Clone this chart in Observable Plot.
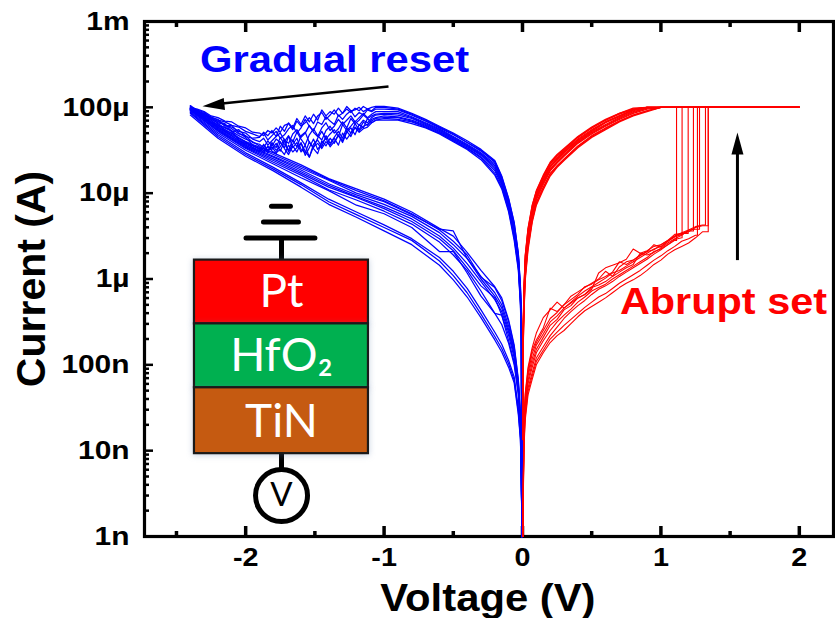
<!DOCTYPE html>
<html>
<head>
<meta charset="utf-8">
<script src="https://cdn.jsdelivr.net/npm/d3@7"></script>
<script src="https://cdn.jsdelivr.net/npm/@observablehq/plot@0.6"></script>
<style>
html,body{margin:0;padding:0;background:#fff}
svg{display:block}
</style>
</head>
<body>
<div id="chart"></div>
<script>
// Currents as log10(A).
const resetV = [-2.4,-2.35,-2.3,-2.25,-2.2,-2.15,-2.1,-2.05,-2,-1.95,
  -1.9,-1.87,-1.84,-1.81,-1.78,-1.75,-1.72,-1.69,-1.66,-1.63,-1.6,-1.57,-1.54,-1.51,-1.48,-1.45,-1.42,-1.39,-1.36,-1.33,-1.3,-1.27,-1.24,-1.21,-1.18,-1.15,-1.12,-1.09,-1.06,
  -1,-.9,-.8,-.7,-.6,-.5,-.4,-.3,-.2,-.15,-.1,-.06,-.03,-.015,-.008,-.004];
const reset1 = [-4.00,-4.02,-4.05,-4.10,-4.12,-4.16,-4.17,-4.22,-4.24,-4.29,
  -4.30,-4.33,-4.27,-4.30,-4.24,-4.29,-4.21,-4.19,-4.26,-4.16,-4.22,-4.18,-4.12,-4.19,-4.10,-4.06,-4.14,-4.09,-4.03,-4.10,-4.07,-4.02,-4.06,-4.01,-4.04,-3.99,-4.02,-4.00,-3.99,
  -3.99,-4.01,-4.07,-4.14,-4.22,-4.30,-4.39,-4.49,-4.62,-4.80,-5.06,-5.34,-5.70,-6.07,-6.45,-9];
const reset2 = [-4.01,-4.04,-4.07,-4.11,-4.15,-4.17,-4.21,-4.23,-4.28,-4.31,
  -4.34,-4.30,-4.38,-4.33,-4.28,-4.36,-4.32,-4.25,-4.21,-4.30,-4.24,-4.14,-4.22,-4.27,-4.17,-4.20,-4.11,-4.16,-4.20,-4.09,-4.14,-4.08,-4.04,-4.11,-4.06,-4.09,-4.03,-4.05,-4.02,
  -4.02,-4.03,-4.09,-4.16,-4.24,-4.32,-4.41,-4.51,-4.64,-4.83,-5.09,-5.38,-5.73,-6.12,-6.50,-9];
const reset3 = [-4.01,-4.05,-4.08,-4.13,-4.16,-4.21,-4.23,-4.28,-4.30,-4.37,
  -4.40,-4.36,-4.44,-4.39,-4.34,-4.30,-4.38,-4.42,-4.31,-4.26,-4.35,-4.30,-4.21,-4.29,-4.34,-4.24,-4.18,-4.27,-4.22,-4.14,-4.20,-4.15,-4.10,-4.17,-4.12,-4.07,-4.12,-4.08,-4.05,
  -4.05,-4.05,-4.11,-4.18,-4.25,-4.34,-4.43,-4.53,-4.66,-4.84,-5.11,-5.40,-5.75,-6.14,-6.54,-9];
const reset4 = [-4.02,-4.05,-4.09,-4.14,-4.18,-4.20,-4.25,-4.31,-4.33,-4.41,
  -4.43,-4.47,-4.39,-4.45,-4.37,-4.41,-4.47,-4.34,-4.40,-4.29,-4.37,-4.44,-4.32,-4.25,-4.33,-4.38,-4.27,-4.22,-4.30,-4.25,-4.17,-4.24,-4.13,-4.19,-4.15,-4.09,-4.13,-4.10,-4.08,
  -4.07,-4.07,-4.12,-4.19,-4.26,-4.35,-4.44,-4.54,-4.68,-4.86,-5.12,-5.42,-5.77,-6.16,-6.57,-9];
const reset5 = [-4.02,-4.03,-4.06,-4.12,-4.14,-4.22,-4.21,-4.30,-4.35,-4.44,
  -4.49,-4.44,-4.51,-4.41,-4.47,-4.35,-4.43,-4.50,-4.38,-4.46,-4.33,-4.29,-4.41,-4.47,-4.36,-4.28,-4.37,-4.31,-4.26,-4.34,-4.20,-4.27,-4.22,-4.16,-4.21,-4.15,-4.18,-4.12,-4.09,
  -4.08,-4.09,-4.13,-4.20,-4.27,-4.36,-4.45,-4.55,-4.70,-4.87,-5.14,-5.44,-5.79,-6.19,-6.60,-9];
const reset6 = [-4.03,-4.06,-4.10,-4.13,-4.19,-4.24,-4.28,-4.33,-4.37,-4.40,
  -4.45,-4.51,-4.46,-4.49,-4.42,-4.51,-4.40,-4.33,-4.47,-4.41,-4.52,-4.44,-4.58,-4.43,-4.38,-4.46,-4.33,-4.42,-4.35,-4.28,-4.36,-4.24,-4.30,-4.19,-4.26,-4.17,-4.21,-4.14,-4.12,
  -4.10,-4.11,-4.15,-4.21,-4.28,-4.37,-4.46,-4.56,-4.72,-4.89,-5.16,-5.47,-5.82,-6.22,-6.64,-9];
const reset7 = [-4.02,-4.07,-4.11,-4.17,-4.20,-4.27,-4.30,-4.36,-4.40,-4.47,
  -4.52,-4.47,-4.53,-4.43,-4.50,-4.46,-4.37,-4.52,-4.43,-4.36,-4.49,-4.53,-4.40,-4.48,-4.54,-4.39,-4.45,-4.36,-4.42,-4.32,-4.39,-4.28,-4.34,-4.23,-4.27,-4.22,-4.20,-4.16,-4.13,
  -4.12,-4.12,-4.16,-4.22,-4.29,-4.38,-4.47,-4.58,-4.74,-4.91,-5.18,-5.50,-5.85,-6.25,-6.68,-9];
const reset8 = [-4.03,-4.07,-4.12,-4.15,-4.22,-4.23,-4.27,-4.38,-4.42,-4.45,
  -4.48,-4.53,-4.45,-4.51,-4.54,-4.40,-4.48,-4.55,-4.45,-4.52,-4.41,-4.56,-4.47,-4.37,-4.49,-4.42,-4.36,-4.46,-4.40,-4.33,-4.41,-4.29,-4.24,-4.32,-4.20,-4.24,-4.13,-4.18,-4.15,
  -4.13,-4.14,-4.17,-4.23,-4.30,-4.39,-4.48,-4.59,-4.77,-4.93,-5.20,-5.52,-5.87,-6.27,-6.72,-9];
const reset9 = [-4.03,-4.08,-4.13,-4.18,-4.23,-4.28,-4.33,-4.39,-4.44,-4.48,
  -4.51,-4.43,-4.50,-4.46,-4.53,-4.49,-4.55,-4.44,-4.52,-4.47,-4.42,-4.51,-4.58,-4.46,-4.42,-4.48,-4.40,-4.44,-4.36,-4.44,-4.30,-4.37,-4.30,-4.24,-4.29,-4.25,-4.23,-4.18,-4.15,
  -4.15,-4.15,-4.19,-4.24,-4.31,-4.40,-4.49,-4.61,-4.79,-4.95,-5.22,-5.55,-5.90,-6.30,-6.77,-9];
const reset10 = [-4.01,-4.04,-4.08,-4.12,-4.17,-4.19,-4.29,-4.26,-4.34,-4.36,
  -4.35,-4.29,-4.33,-4.27,-4.34,-4.22,-4.28,-4.18,-4.24,-4.13,-4.20,-4.10,-4.17,-4.08,-4.15,-4.03,-4.10,-4.05,-4.08,-4.01,-4.07,-3.99,-4.04,-4.03,-4.00,-4.05,-4.02,-4.04,-4.00,
  -4.00,-4.02,-4.08,-4.15,-4.23,-4.31,-4.41,-4.50,-4.63,-4.81,-5.07,-5.35,-5.71,-6.09,-6.47,-9];

const offV = [-2.4,-2.2,-2,-1.8,-1.6,-1.4,-1.2,-1,-.8,-.6,-.5,-.4,-.3,-.2,-.15,-.1,-.06,-.03,-.015,-.008,-.004];
const off1 = [-3.98,-4.21,-4.40,-4.53,-4.67,-4.83,-4.95,-5.07,-5.22,-5.41,-5.50,-5.69,-5.90,-6.09,-6.22,-6.48,-6.77,-7.17,-7.58,-8.22,-9];
const off2 = [-3.99,-4.23,-4.41,-4.55,-4.69,-4.84,-4.97,-5.09,-5.24,-5.43,-5.56,-5.72,-5.98,-6.10,-6.25,-6.50,-6.79,-7.19,-7.60,-8.24,-9];
const off3 = [-4.00,-4.24,-4.43,-4.57,-4.71,-4.85,-5.00,-5.10,-5.25,-5.42,-5.44,-5.76,-5.97,-6.16,-6.30,-6.55,-6.83,-7.22,-7.62,-8.25,-9];
const off4 = [-4.01,-4.25,-4.45,-4.58,-4.73,-4.89,-5.02,-5.13,-5.27,-5.46,-5.60,-5.76,-6.00,-6.20,-6.34,-6.59,-6.86,-7.24,-7.64,-8.26,-9];
const off5 = [-4.02,-4.26,-4.46,-4.60,-4.75,-4.91,-5.04,-5.16,-5.30,-5.50,-5.64,-5.82,-6.03,-6.24,-6.38,-6.62,-6.88,-7.26,-7.66,-8.27,-9];
const off6 = [-4.03,-4.27,-4.47,-4.62,-4.77,-4.93,-5.05,-5.18,-5.33,-5.53,-5.67,-5.87,-6.08,-6.22,-6.42,-6.66,-6.92,-7.28,-7.68,-8.28,-9];
const off7 = [-4.04,-4.28,-4.48,-4.64,-4.79,-4.96,-5.08,-5.21,-5.36,-5.57,-5.72,-5.90,-6.14,-6.40,-6.42,-6.72,-6.97,-7.32,-7.70,-8.29,-9];
const off8 = [-4.05,-4.30,-4.50,-4.66,-4.82,-4.97,-5.14,-5.24,-5.40,-5.68,-5.68,-5.93,-6.20,-6.40,-6.53,-6.75,-7.00,-7.35,-7.72,-8.30,-9];
const off9 = [-4.06,-4.32,-4.53,-4.70,-4.88,-5.07,-5.22,-5.37,-5.53,-5.75,-5.91,-6.11,-6.36,-6.62,-6.76,-6.95,-7.14,-7.50,-7.80,-8.32,-9];
const off10 = [-4.07,-4.34,-4.55,-4.72,-4.90,-5.10,-5.25,-5.40,-5.55,-5.79,-5.96,-6.16,-6.41,-6.67,-6.81,-6.99,-7.18,-7.55,-7.85,-8.33,-9];
const off11 = [-4.09,-4.36,-4.57,-4.74,-4.93,-5.13,-5.28,-5.44,-5.60,-5.84,-6.01,-6.21,-6.45,-6.71,-6.85,-7.03,-7.21,-7.58,-7.87,-8.34,-9];

const returnV = [.001,.005,.01,.02,.04,.07,.1,.15,.2,.25,.3,.4,.5,.6,.7,.8,.9,1,2];
const return1 = [-7.76,-6.59,-6.13,-5.72,-5.41,-5.14,-4.97,-4.79,-4.64,-4.55,-4.48,-4.34,-4.23,-4.14,-4.07,-4.01,-4,-4,-4];
const return2 = [-7.77,-6.62,-6.17,-5.75,-5.44,-5.17,-4.99,-4.81,-4.66,-4.57,-4.50,-4.35,-4.24,-4.15,-4.08,-4.02,-4,-4,-4];
const return3 = [-7.78,-6.64,-6.20,-5.79,-5.47,-5.19,-5.01,-4.83,-4.68,-4.59,-4.51,-4.37,-4.26,-4.17,-4.10,-4.03,-4,-4,-4];
const return4 = [-7.79,-6.67,-6.23,-5.82,-5.50,-5.21,-5.03,-4.85,-4.70,-4.61,-4.53,-4.39,-4.28,-4.18,-4.11,-4.04,-4,-4,-4];
const return5 = [-7.80,-6.69,-6.26,-5.85,-5.53,-5.23,-5.05,-4.87,-4.72,-4.63,-4.55,-4.40,-4.29,-4.20,-4.12,-4.05,-4.01,-4,-4];
const return6 = [-7.82,-6.72,-6.29,-5.89,-5.56,-5.27,-5.08,-4.90,-4.74,-4.65,-4.57,-4.42,-4.31,-4.22,-4.14,-4.07,-4.02,-4,-4];
const return7 = [-7.84,-6.78,-6.36,-5.95,-5.61,-5.31,-5.11,-4.93,-4.77,-4.68,-4.60,-4.45,-4.33,-4.24,-4.16,-4.09,-4.04,-4,-4];
const return8 = [-7.87,-6.83,-6.42,-6.01,-5.66,-5.34,-5.14,-4.96,-4.80,-4.70,-4.62,-4.47,-4.35,-4.26,-4.17,-4.10,-4.05,-4,-4];
const return9 = [-7.77,-6.60,-6.15,-5.73,-5.42,-5.15,-4.98,-4.80,-4.65,-4.56,-4.49,-4.35,-4.24,-4.15,-4.07,-4.02,-4,-4,-4];
const return10 = [-7.79,-6.65,-6.22,-5.80,-5.48,-5.20,-5.02,-4.84,-4.69,-4.60,-4.52,-4.38,-4.27,-4.17,-4.10,-4.03,-4,-4,-4];
const return11 = [-7.81,-6.70,-6.27,-5.87,-5.54,-5.25,-5.06,-4.88,-4.73,-4.64,-4.56,-4.41,-4.30,-4.21,-4.13,-4.06,-4.01,-4,-4];
const return12 = [-7.85,-6.80,-6.39,-5.98,-5.63,-5.32,-5.12,-4.94,-4.78,-4.69,-4.61,-4.46,-4.34,-4.25,-4.16,-4.09,-4.04,-4,-4];

const setV = [.003,.005,.01,.02,.04,.07,.1,.15,.2,.25,.3,.35,.4,.45,.5,.55,.6,.65,.7,.75,.8,.85,.9,.95,1,1.05,1.1,1.15,1.2,1.25,1.3];
const set1 = [-9,-8.55,-7.68,-7.33,-7.03,-6.80,-6.63,-6.45,-6.36,-6.27,-6.34,-6.28,-6.22,-6.18,-6.12,-5.93,-5.87,-5.84,-5.81,-5.77,-5.65,-5.70,-5.67,-5.62,-5.60,-5.55,-5.48,-5.47,-5.44];
const set2 = [-9,-8.57,-7.70,-7.35,-7.06,-6.83,-6.71,-6.57,-6.34,-6.38,-6.30,-6.20,-6.15,-6.10,-6.05,-6.00,-5.91,-5.97,-5.86,-5.80,-5.78,-5.72,-5.68,-5.60,-5.63,-5.56,-5.50,-5.47];
const set3 = [-9,-8.59,-7.74,-7.39,-7.10,-6.87,-6.74,-6.60,-6.46,-6.39,-6.30,-6.24,-6.18,-6.09,-6.06,-6.01,-5.97,-5.92,-5.80,-5.83,-5.78,-5.73,-5.68,-5.66,-5.60,-5.55,-5.50,-5.46,-5.43,-5.39,-5.37];
const set4 = [-9,-8.60,-7.77,-7.43,-7.13,-6.93,-6.77,-6.64,-6.50,-6.43,-6.34,-6.27,-6.20,-6.14,-6.09,-6.04,-5.99,-5.93,-5.90,-5.85,-5.80,-5.75,-5.70,-5.65,-5.62,-5.56,-5.51,-5.48,-5.45,-5.40,-5.38];
const set5 = [-9,-8.62,-7.81,-7.46,-7.18,-6.98,-6.82,-6.68,-6.54,-6.47,-6.36,-6.31,-6.22,-6.18,-6.10,-6.07,-6.03,-5.97,-5.92,-5.87,-5.83,-5.70,-5.72,-5.69,-5.64,-5.58,-5.53,-5.49,-5.43,-5.42];
const set6 = [-9,-8.63,-7.85,-7.50,-7.22,-7.03,-6.86,-6.72,-6.60,-6.50,-6.42,-6.35,-6.27,-6.21,-6.14,-6.10,-6.06,-6.00,-5.95,-5.90,-5.85,-5.80,-5.75,-5.68,-5.65,-5.60,-5.55];
const set7 = [-9,-8.65,-7.89,-7.55,-7.27,-7.09,-6.92,-6.79,-6.66,-6.56,-6.46,-6.38,-6.31,-6.25,-6.18,-6.12,-6.08,-6.03,-5.97,-5.92,-5.87,-5.82,-5.77,-5.71,-5.66,-5.60,-5.54,-5.52];
const set8 = [-9,-8.67,-7.94,-7.60,-7.31,-7.13,-6.96,-6.83,-6.70,-6.62,-6.54,-6.47,-6.40,-6.33,-6.27,-6.21,-6.17,-6.11,-6.05,-6.00,-5.95,-5.90,-5.84,-5.78,-5.73,-5.67,-5.62,-5.56,-5.53,-5.49];
const set9 = [-9,-8.69,-7.99,-7.64,-7.35,-7.17,-7.00,-6.86,-6.74,-6.66,-6.60,-6.52,-6.44,-6.37,-6.32,-6.27,-6.22,-6.16,-6.10,-6.05,-6.01,-5.96,-5.90,-5.83,-5.78,-5.71,-5.66,-5.62,-5.58,-5.52,-5.45];
const setJumpV = [1.235,1.197,1.322,1.342,1.279,1.113,1.153,1.264,1.342];
const complianceLog = -4;
const sweepEndV = 2;

const yTickValues = [1e-3,1e-4,1e-5,1e-6,1e-7,1e-8,1e-9];
const yTickLabels = ["1m","100µ","10µ","1µ","100n","10n","1n"];
const yMinorDigits = [2,3,4,5,6,7,8,9];
const xTickValues = [-2,-1,0,1,2];
const xMinorValues = [-2.5,-1.5,-0.5,0.5,1.5];

// Device schematic, in axis units (V, A)
const layerNames = ["Pt","HfO₂","TiN"];
const layerColors = ["#ff0000","#00b050","#c55a11"];
const layerTop = [1.66e-6,3.0e-7,5.4e-8];
const layerBottom = [3.0e-7,5.4e-8,9.23e-9];
const layerLabelY = [7.06e-7,1.27e-7,2.12e-8];

const resetCycles = [reset1,reset2,reset3,reset4,reset5,reset6,reset7,reset8,reset9,reset10];
const offCycles = [off1,off2,off3,off4,off5,off6,off7,off8,off9,off10,off11];
const returnCycles = [return1,return2,return3,return4,return5,return6,return7,return8,return9,return10,return11,return12];
const setCycles = [set1,set2,set3,set4,set5,set6,set7,set8,set9];

const rows = (grid, cycles, tag) => cycles.flatMap((c,i) => c.map((v,j) => ({V:grid[j], I:10**v, id:tag+i})));
const blueRows = [...rows(resetV, resetCycles, "r"), ...rows(offV, offCycles, "o")];
const returnRows = rows(returnV, returnCycles, "b");
const setRows = setCycles.flatMap((c,i) => {
  const kept = c.map((v,j) => ({V:setV[j], I:10**v, id:"s"+i})).filter(d => d.V <= setJumpV[i]);
  const last = kept[kept.length-1];
  return [...kept,
    {V:setJumpV[i], I:last.I, id:"s"+i},
    {V:setJumpV[i], I:10**complianceLog, id:"s"+i},
    {V:sweepEndV, I:10**complianceLog, id:"s"+i}];
});
const yMinor = yTickValues.slice(1).flatMap(t => yMinorDigits.map(d => t*d));

const arrowHead = {draw(ctx){ctx.moveTo(0,0);ctx.lineTo(-6,22);ctx.lineTo(6,22);ctx.closePath();}};
const layers = layerNames.map((name,i) => ({name, color:layerColors[i], top:layerTop[i], bottom:layerBottom[i], ly:layerLabelY[i]}));
const FONT = "Liberation Sans, Arial, sans-serif";
const SANS = "Lato, Open Sans, sans-serif";
const tickStyle = {fill:"none", label:null};

const plot = Plot.plot({
  width:835, height:618,
  marginLeft:144, marginRight:2, marginTop:21, marginBottom:82,
  style:{fontFamily:FONT, fontWeight:"bold", background:"#fff", color:"#000"},
  x:{domain:[-2.731,2.247], label:null},
  y:{type:"log", domain:[1e-3,1e-9], range:[21,536], label:null},
  marks:[
    Plot.axisY(yTickValues,{tickSize:0, tickPadding:15, fontSize:26, label:null,
      tickFormat:d => yTickLabels[yTickValues.indexOf(d)]}),
    Plot.axisY(yTickValues,{tickSize:-9, strokeWidth:2.5, ...tickStyle}),
    Plot.axisY(yMinor,{tickSize:-5, strokeWidth:2.5, ...tickStyle}),
    Plot.axisX(xTickValues,{tickSize:0, tickPadding:12, fontSize:25, label:null, tickFormat:d => String(d)}),
    Plot.axisX(xTickValues,{tickSize:-10, strokeWidth:3.5, ...tickStyle}),
    Plot.axisX(xMinorValues,{tickSize:-5, strokeWidth:3.5, ...tickStyle}),
    Plot.axisX(xTickValues,{anchor:"top", tickSize:-10, strokeWidth:3.5, ...tickStyle}),
    Plot.axisX(xMinorValues,{anchor:"top", tickSize:-5, strokeWidth:3.5, ...tickStyle}),
    Plot.frame({stroke:"#000", strokeWidth:3.2}),

    Plot.line(blueRows,{x:"V", y:"I", z:"id", stroke:"#0000ff", strokeWidth:1.25}),
    Plot.line(returnRows,{x:"V", y:"I", z:"id", stroke:"#ff0000", strokeWidth:1.25}),
    Plot.line(setRows,{x:"V", y:"I", z:"id", stroke:"#ff0000", strokeWidth:1.1}),

    // Arrows
    Plot.link([0],{x1:[-0.968], y1:[1.75e-4], x2:[-2.17], y2:[1.11e-4], stroke:"#000", strokeWidth:2.6}),
    Plot.dot([0],{x:[-2.312], y:[1.03e-4], symbol:arrowHead, rotate:-96, fill:"#000", stroke:"none", r:8}),
    Plot.link([0],{x1:[1.553], y1:[1.66e-6], x2:[1.553], y2:[2.9e-5], stroke:"#000", strokeWidth:3}),
    Plot.dot([0],{x:[1.553], y:[5.1e-5], symbol:arrowHead, rotate:0, fill:"#000", stroke:"none", r:8}),

    // Annotations
    Plot.text(["Gradual reset"],{x:[-1.358], y:[3.52e-4], fill:"#0000ff", fontSize:36}),
    Plot.text(["Abrupt set"],{x:[1.452], y:[5.4e-7], fill:"#ff0000", fontSize:37}),
    Plot.text(["Voltage (V)"],{x:[-0.25], y:[1.9e-10], fill:"#000", fontSize:38}),
    Plot.text(["Current (A)"],{frameAnchor:"left", dx:-113, textAnchor:"middle", rotate:-90, fill:"#000", fontSize:41}),

    // Device stack
    Plot.ruleY([3.0e-6],{x1:-1.994, x2:-1.496, stroke:"#000", strokeWidth:5, strokeLinecap:"round"}),
    Plot.ruleY([4.6e-6],{x1:-1.868, x2:-1.615, stroke:"#000", strokeWidth:5, strokeLinecap:"round"}),
    Plot.ruleY([7.06e-6],{x1:-1.81, x2:-1.673, stroke:"#000", strokeWidth:5, strokeLinecap:"round"}),
    Plot.ruleX([-1.741],{y1:3.0e-6, y2:1.66e-6, stroke:"#000", strokeWidth:5}),
    Plot.ruleX([-1.741],{y1:9.23e-9, y2:6.0e-9, stroke:"#000", strokeWidth:5}),
    Plot.rect(layers,{x1:-2.37, x2:-1.113, y1:"bottom", y2:"top", fill:"color", stroke:"#1a1a1a", strokeWidth:2.2}),
    Plot.dot([0],{x:[-1.741], y:[3.0e-9], r:26, fill:"#fff", stroke:"#000", strokeWidth:5}),
    Plot.text(layers,{x:[-1.741,-1.741,-1.741], y:"ly", text:"name", fill:"#fff", fontSize:46, fontFamily:SANS, fontWeight:"normal"}),
    Plot.text(["V"],{x:[-1.741], y:[3.0e-9], fill:"#000", fontSize:33, fontFamily:SANS, fontWeight:"normal"})
  ]
});

// The reference's bold lettering is drawn wider than its height implies.
const widen = new Map([...yTickLabels, "-2","-1","0","1","2"].map(s => [s,1.15]));
widen.set("Gradual reset",1.16); widen.set("Abrupt set",1.12); widen.set("Voltage (V)",1.1);
plot.querySelectorAll("text").forEach(t => {
  const k = widen.get(t.textContent);
  if (k) t.setAttribute("transform", (t.getAttribute("transform") || "") + ` scale(${k},1)`);
});
plot.querySelectorAll('rect[fill="#ff0000"],rect[fill="#00b050"],rect[fill="#c55a11"]').forEach(r => r.style.filter = "drop-shadow(0 1px 3px rgba(90,120,170,.35))");
document.getElementById("chart").append(plot);
</script>
</body>
</html>
